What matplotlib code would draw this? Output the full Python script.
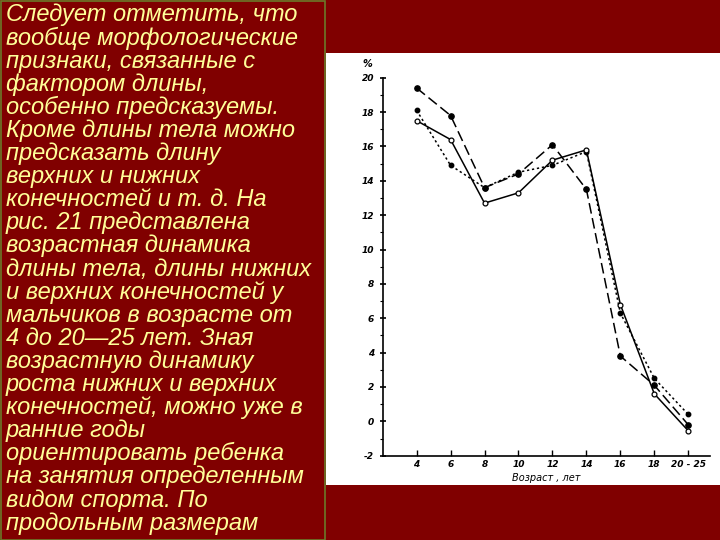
import matplotlib
matplotlib.use("Agg")
import matplotlib.pyplot as plt
from matplotlib.patches import Rectangle
from matplotlib.ticker import MultipleLocator

# ---- data ----
age_labels = ["4", "6", "8", "10", "12", "14", "16", "18", "20 - 25"]
series_dashed = [19.4, 17.8, 13.6, 14.4, 16.1, 13.5, 3.8, 2.1, -0.2]
series_dotted = [18.1, 14.9, 13.6, 14.5, 14.9, 15.7, 6.3, 2.5, 0.4]
series_solid = [17.5, 16.4, 12.7, 13.3, 15.2, 15.8, 6.8, 1.6, -0.55]
y_ticks = [-2, 0, 2, 4, 6, 8, 10, 12, 14, 16, 18, 20]

text_lines = [
    "Следует отметить, что",
    "вообще морфологические",
    "признаки, связанные с",
    "фактором длины,",
    "особенно предсказуемы.",
    "Кроме длины тела можно",
    "предсказать длину",
    "верхних и нижних",
    "конечностей и т. д. На",
    "рис. 21 представлена",
    "возрастная динамика",
    "длины тела, длины нижних",
    "и верхних конечностей у",
    "мальчиков в возрасте от",
    "4 до 20—25 лет. Зная",
    "возрастную динамику",
    "роста нижних и верхних",
    "конечностей, можно уже в",
    "ранние годы",
    "ориентировать ребенка",
    "на занятия определенным",
    "видом спорта. По",
    "продольным размерам",
]

W, H = 720, 540
BG = "#800000"
fig = plt.figure(figsize=(7.2, 5.4), dpi=100, facecolor=BG)

# white picture area
fig.patches.append(Rectangle((326 / W, 1 - 485 / H), (720 - 326) / W, (485 - 53) / H,
                             transform=fig.transFigure, facecolor="white",
                             edgecolor="none", zorder=0))
# text box border
fig.patches.append(Rectangle((1 / W, 0), 324 / W, 1 - 1 / H,
                             transform=fig.transFigure, facecolor="none",
                             edgecolor="#6b7a2a", linewidth=1.2, zorder=1))

# left text
for i, line in enumerate(text_lines):
    y = 15 + i * 23.1
    fig.text(6 / W, 1 - y / H, line, color="#ffff99", fontsize=17,
             fontstyle="italic", family="Liberation Sans",
             va="center", ha="left")

# chart axes
left, right, bottom_px, top_px = 383, 710, 455.7, 77.7
ax = fig.add_axes([left / W, 1 - bottom_px / H, (right - left) / W, (bottom_px - top_px) / H])
ax.set_zorder(5)
ax.patch.set_alpha(0)
x = list(range(len(age_labels)))

ax.plot(x, series_dashed, color="black", lw=1.1, linestyle=(0, (7, 3)),
        marker="o", ms=3.8, mfc="black", mec="black")
ax.plot(x, series_dotted, color="black", lw=1.1, linestyle=(0, (1.5, 1.8)),
        marker="o", ms=3.2, mfc="black", mec="black")
ax.plot(x, series_solid, color="black", lw=1.1, linestyle="-",
        marker="o", ms=3.5, mfc="white", mec="black", mew=0.9)

ax.set_xlim(-0.99, 8.64)
ax.set_ylim(-2, 20)
ax.set_xticks(x)
ax.set_xticklabels(age_labels)
ax.set_yticks(y_ticks)
ax.set_yticklabels([str(v) for v in y_ticks])
ax.yaxis.set_minor_locator(MultipleLocator(1))

for s in ["top", "right"]:
    ax.spines[s].set_visible(False)
for s in ["left", "bottom"]:
    ax.spines[s].set_linewidth(1.2)

ax.tick_params(axis="y", which="major", direction="inout", length=5, width=1.2,
               labelsize=6.5, pad=4)
ax.tick_params(axis="y", which="minor", direction="out", length=2.5, width=0.8)
ax.tick_params(axis="x", which="major", direction="in", length=4, width=1,
               labelsize=6.5, pad=3)
for lbl in ax.get_xticklabels() + ax.get_yticklabels():
    lbl.set_fontstyle("italic")
    lbl.set_fontweight("bold")

ax.set_xlabel("Возраст , лет", fontsize=7, fontstyle="italic", labelpad=3)
fig.text(367 / W, 1 - 64 / H, "%", fontsize=7, fontstyle="italic",
         fontweight="bold", ha="center", va="center")

fig.savefig("out.png", dpi=100, facecolor=BG)
